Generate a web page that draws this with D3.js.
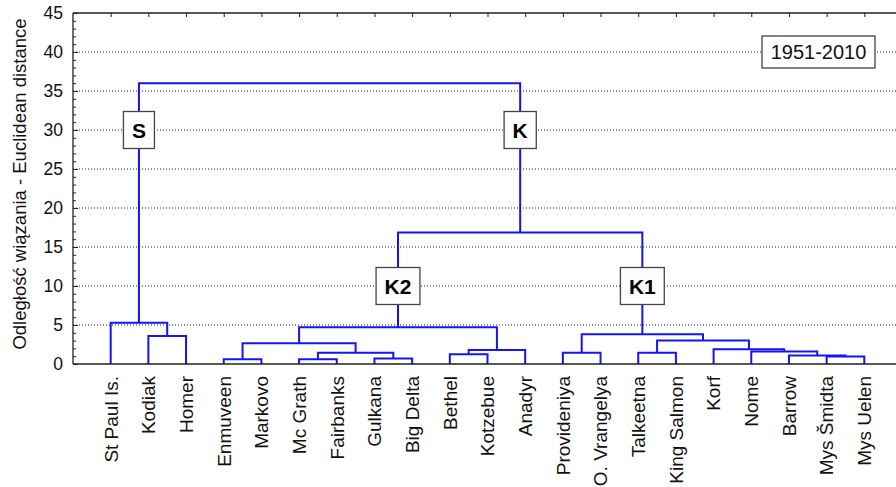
<!DOCTYPE html>
<html><head><meta charset="utf-8">
<script src="https://cdn.jsdelivr.net/npm/d3@7"></script>
<style>
html,body{margin:0;padding:0;background:#fff;}
svg{display:block;font-family:"Liberation Sans",Arial,sans-serif;}
</style></head>
<body>
<svg id="chart" width="896" height="487"></svg>
<script>
// ---- data ----
const leaves = ["St Paul Is.","Kodiak","Homer","Enmuveen","Markovo","Mc Grath","Fairbanks","Gulkana","Big Delta","Bethel","Kotzebue","Anadyr","Provideniya","O. Vrangelya","Talkeetna","King Salmon","Korf","Nome","Barrow","Mys Šmidta","Mys Uelen"];
// linkage: [node a, node b, linkage distance]; leaves are 0..20, merged node k gets id 21+k
const linkage = [
  [3,4,0.6],[5,6,0.6],[7,8,0.7],[19,20,0.95],[18,24,1.1],[9,10,1.25],
  [22,23,1.45],[12,13,1.45],[14,15,1.45],[17,25,1.6],[26,11,1.8],[16,30,1.9],
  [21,27,2.65],[29,32,3.0],[1,2,3.6],[28,34,3.8],[33,31,4.7],[0,35,5.3],
  [37,36,16.85],[38,39,36.0]
];
const yTicks = [0,5,10,15,20,25,30,35,40,45];
const clusterNames = ["S","K","K2","K1"];
const clusterNodes = [38,39,37,36];
const clusterLevel = [30,30,10,10];
const periodLabel = "1951-2010";
const yTitle = "Odległość wiązania - Euclidean distance";

// ---- layout ----
const svg = d3.select("#chart");
const L = 73, R = 902, T = 13, B = 364;
const x = d3.scalePoint().domain(d3.range(leaves.length)).range([L, R]).padding(1);
const y = d3.scaleLinear().domain([0,45]).range([B, T]);
const blue = "#1414f5";

// gridlines
svg.append("g").selectAll("line").data(yTicks.filter(d => d > 0 && d < 45)).join("line")
  .attr("x1", L).attr("x2", 896).attr("y1", d => y(d)).attr("y2", d => y(d))
  .attr("stroke", "#222").attr("stroke-width", 1).attr("stroke-dasharray", "1,2");

// y axis
const yAxis = d3.axisRight(y).tickValues(yTicks).tickSize(5).tickFormat("");
const ga = svg.append("g").attr("transform", `translate(${L},0)`).call(yAxis);
ga.select(".domain").remove();
ga.selectAll("line").attr("stroke", "#222");
const yMinor = d3.axisRight(y).tickValues(d3.range(0,46).filter(d => d % 5)).tickSize(3).tickFormat("");
const gm = svg.append("g").attr("transform", `translate(${L},0)`).call(yMinor);
gm.select(".domain").remove();
gm.selectAll("line").attr("stroke", "#222");
svg.append("g").selectAll("text").data(yTicks).join("text")
  .attr("x", L - 10).attr("y", d => y(d)).attr("dy", "0.36em")
  .attr("text-anchor", "end").attr("font-size", 17.5).attr("fill", "#111").text(d => d);

// top axis ticks
const xTop = d3.axisBottom(x).tickSize(4).tickFormat("");
const gt = svg.append("g").attr("transform", `translate(0,${T})`).call(xTop);
gt.select(".domain").remove();
gt.selectAll("line").attr("stroke", "#222");

// frame lines
svg.append("line").attr("x1", L).attr("x2", L).attr("y1", T).attr("y2", B).attr("stroke", "#222").attr("stroke-width", 1.3);
svg.append("line").attr("x1", L).attr("x2", 896).attr("y1", T).attr("y2", T).attr("stroke", "#222").attr("stroke-width", 1.3);

// dendrogram
const nx = leaves.map((d, i) => x(i));
const nh = leaves.map(() => 0);
const paths = [];
linkage.forEach(([a, b, h]) => {
  paths.push(`M${nx[a]},${y(nh[a])}V${y(h)}H${nx[b]}V${y(nh[b])}`);
  nx.push((nx[a] + nx[b]) / 2);
  nh.push(h);
});
svg.append("g").selectAll("path").data(paths).join("path")
  .attr("d", d => d).attr("fill", "none").attr("stroke", blue).attr("stroke-width", 2);

// bottom axis line
svg.append("line").attr("x1", L).attr("x2", 896).attr("y1", B).attr("y2", B).attr("stroke", "#222").attr("stroke-width", 1.3);

// leaf labels
svg.append("g").selectAll("text").data(leaves).join("text")
  .attr("transform", (d, i) => `translate(${x(i)},${B + 12}) rotate(-90)`)
  .attr("text-anchor", "end").attr("dy", "0.36em")
  .attr("font-size", 19).attr("fill", "#111").text(d => d);

// cluster label boxes
const cg = svg.append("g").selectAll("g").data(clusterNames).join("g")
  .attr("transform", (d, i) => `translate(${nx[clusterNodes[i]]},${y(clusterLevel[i])})`);
cg.append("text").attr("text-anchor", "middle").attr("dy", "0.36em")
  .attr("font-size", 21).attr("font-weight", "bold").attr("fill", "#000").text(d => d)
  .each(function() {
    const w = this.getComputedTextLength() + 17;
    d3.select(this.parentNode).insert("rect", "text")
      .attr("x", -w / 2).attr("y", -18.5).attr("width", w).attr("height", 37)
      .attr("fill", "#fff").attr("stroke", "#444").attr("stroke-width", 1.3);
  });

// period box
const pg = svg.append("g").attr("transform", `translate(818.5,${y(40)})`);
pg.append("rect").attr("x", -56.5).attr("y", -16).attr("width", 113).attr("height", 32)
  .attr("fill", "#fff").attr("stroke", "#444").attr("stroke-width", 1.3);
pg.append("text").attr("text-anchor", "middle").attr("dy", "0.36em")
  .attr("font-size", 20).attr("fill", "#111").text(periodLabel);

// y title
svg.append("text").attr("transform", `translate(19,184) rotate(-90)`)
  .attr("text-anchor", "middle").attr("dy", "0.36em")
  .attr("font-size", 18.5).attr("fill", "#111").text(yTitle);
</script>
</body></html>
